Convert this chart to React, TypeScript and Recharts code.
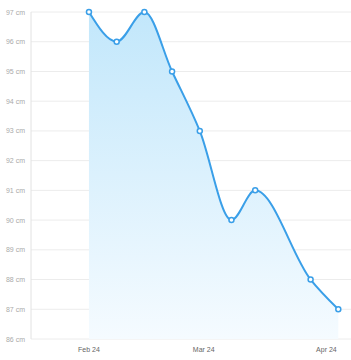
import { AreaChart, Area, XAxis, YAxis, CartesianGrid } from 'recharts';

// dates of the measurements and waist size in cm
const dates = [
  "2024-02-24", "2024-03-02", "2024-03-09", "2024-03-16", "2024-03-23",
  "2024-03-31", "2024-04-06", "2024-04-20", "2024-04-27",
];
const sizes = [97, 96, 97, 95, 93, 90, 91, 88, 87];

const tickDates = ["2024-02-24", "2024-03-24", "2024-04-24"];
const tickNames = ["Feb 24", "Mar 24", "Apr 24"];
const yTicks = [86, 87, 88, 89, 90, 91, 92, 93, 94, 95, 96, 97];
const xDomain = ["2024-02-09T08:30:00Z", "2024-04-30T05:00:00Z"];

const toTime = (d: string) => Date.parse(d.length === 10 ? d + "T00:00:00Z" : d);

const data = dates.map((d, i) => ({ t: toTime(d), size: sizes[i] }));
const xTicks = tickDates.map(toTime);

const YTick = (props: any) => {
  const { x, y, payload } = props;
  return (
    <text x={x} y={y} dy={2.5} textAnchor="end" fontSize={7} fill="#aaa">
      {`${payload.value} cm`}
    </text>
  );
};

const XTick = (props: any) => {
  const { x, y, payload } = props;
  const i = xTicks.indexOf(payload.value);
  return (
    <text x={x} y={y} dy={6} textAnchor="middle" fontSize={7} fill="#666">
      {i >= 0 ? tickNames[i] : ""}
    </text>
  );
};

export default function App() {
  return (
    <div style={{ position: "absolute", left: 0, top: 0 }}>
      <AreaChart
        width={351}
        height={360}
        data={data}
        margin={{ top: 12, right: 0, left: 0, bottom: 0 }}
        style={{ fontFamily: "'Liberation Sans', Arial, sans-serif" }}
      >
        <defs>
          <linearGradient id="fillSize" x1="0" y1="0" x2="0" y2="1">
            <stop offset="0%" stopColor="#c2e7fb" stopOpacity={1} />
            <stop offset="100%" stopColor="#f5fbff" stopOpacity={1} />
          </linearGradient>
        </defs>
        <CartesianGrid vertical={false} stroke="#ececec" />
        <XAxis
          dataKey="t"
          type="number"
          domain={xDomain.map(toTime)}
          allowDataOverflow
          ticks={xTicks}
          interval={0}
          axisLine={false}
          tickLine={false}
          height={21}
          tickSize={5}
          tick={<XTick />}
        />
        <YAxis
          domain={[86, 97]}
          ticks={yTicks}
          interval={0}
          width={31}
          axisLine={{ stroke: "#e2e2e2" }}
          tickLine={false}
          tickSize={4}
          tick={<YTick />}
        />
        <Area
          type="monotone"
          dataKey="size"
          stroke="#3a9fe8"
          strokeWidth={2}
          fill="url(#fillSize)"
          fillOpacity={1}
          dot={{ r: 2.5, fill: "#fff", stroke: "#3a9fe8", strokeWidth: 1.5 }}
          activeDot={false}
          isAnimationActive={false}
        />
      </AreaChart>
    </div>
  );
}
